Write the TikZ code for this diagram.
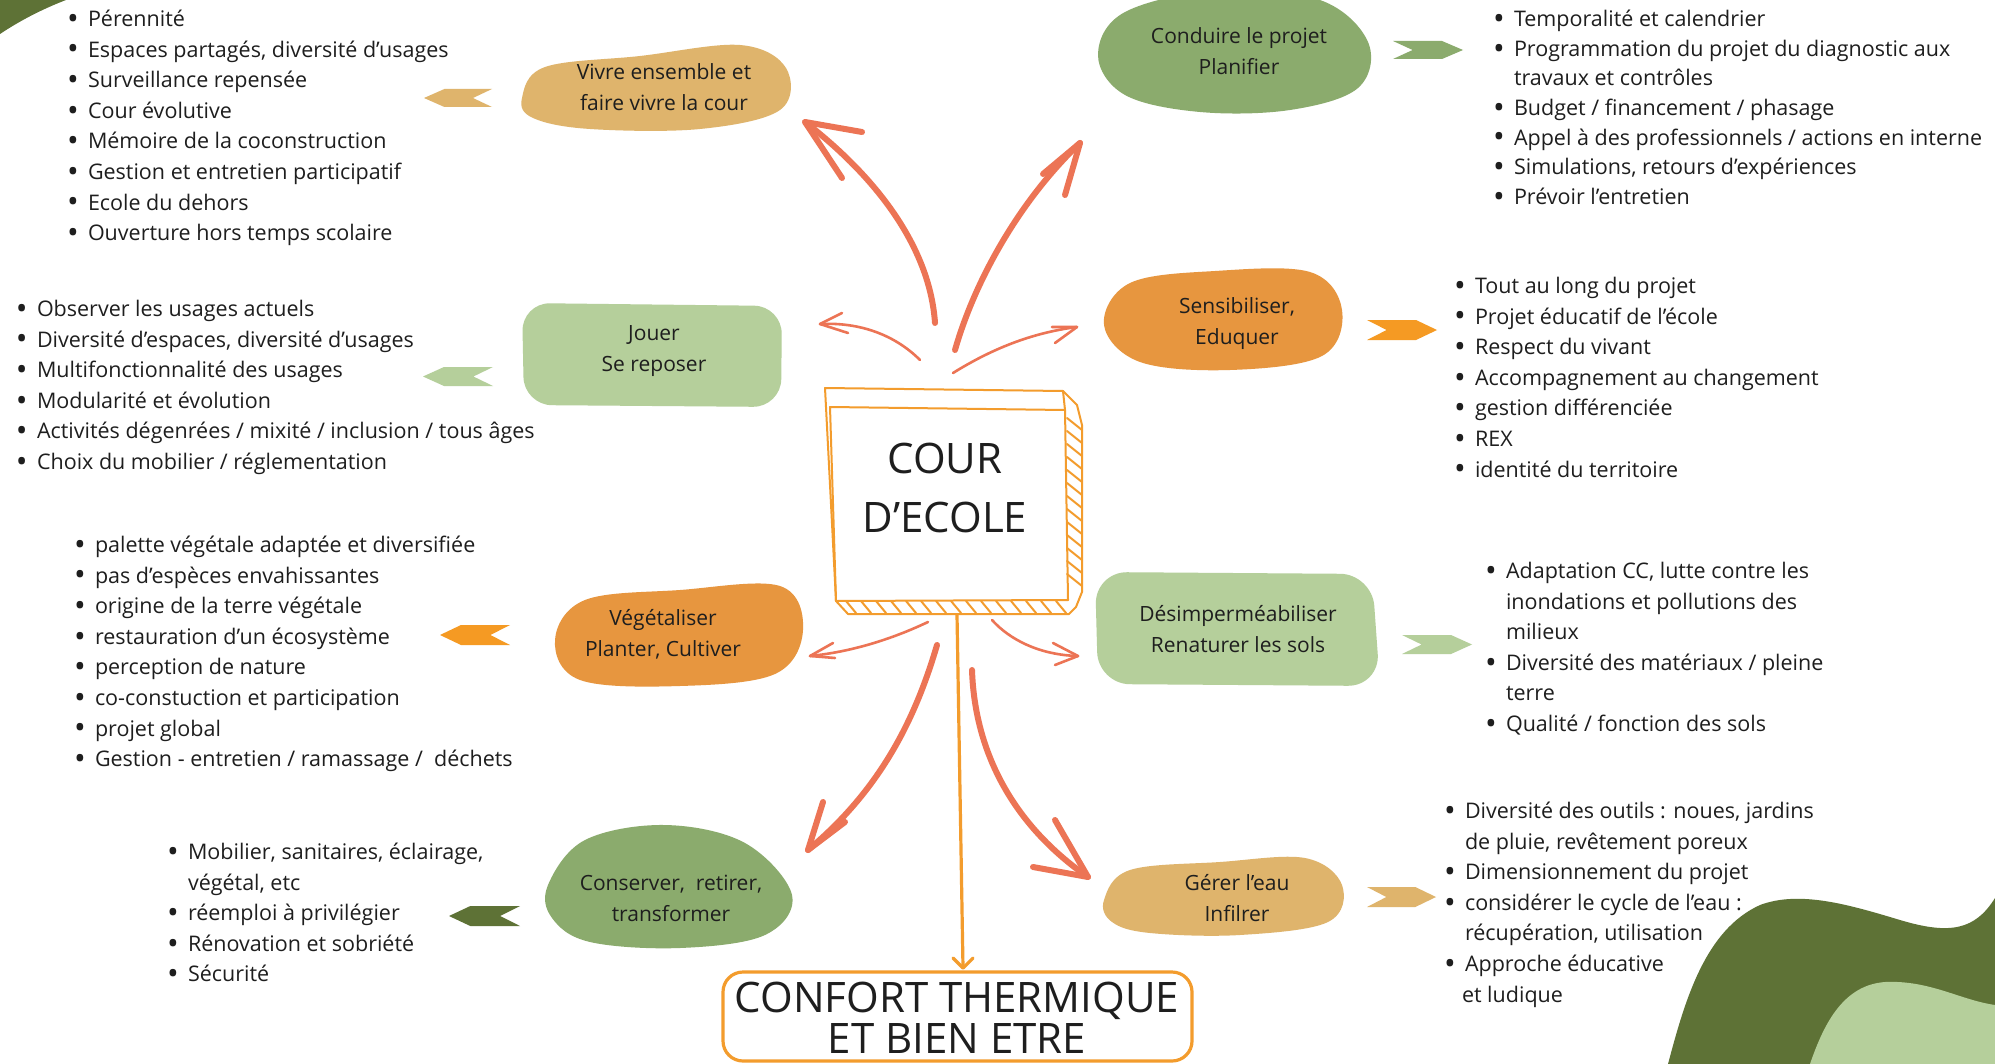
\documentclass[tikz,border=0pt]{standalone}
\usepackage{fontspec}
\setmainfont{Open Sans}
\definecolor{cTan}{HTML}{DFB46C}
\definecolor{cOrange}{HTML}{E7963F}
\definecolor{cOrangeB}{HTML}{F59A23}
\definecolor{cGreen}{HTML}{8BAB6D}
\definecolor{cLight}{HTML}{B5CF9B}
\definecolor{cDark}{HTML}{5E7236}
\definecolor{cSalmon}{HTML}{EC7455}
\definecolor{cBox}{HTML}{F39C2D}
\definecolor{cText}{HTML}{1E1E1E}
\newcommand\bi{\makebox[10.5pt][l]{\raisebox{-0.13em}{\scalebox{1.45}{\textbullet}}}}
\newcommand\ci{\hspace*{10.5pt}}
\newcommand\chevleft[5]{%
 \fill[#5] (#1,{(#3+#4)/2}) -- ({#1+0.3*(#2-#1)},#3) -- (#2,#3) -- ({#2-0.28*(#2-#1)},{(#3+#4)/2}) -- (#2,#4) -- ({#1+0.3*(#2-#1)},#4) -- cycle;}
\newcommand\chevright[5]{%
 \fill[#5] (#1,#3) -- ({#2-0.3*(#2-#1)},#3) -- (#2,{(#3+#4)/2}) -- ({#2-0.3*(#2-#1)},#4) -- (#1,#4) -- ({#1+0.28*(#2-#1)},{(#3+#4)/2}) -- cycle;}
\begin{document}
\begin{tikzpicture}[x=0.5pt,y=-0.5pt,
  listnode/.style={anchor=north west,inner sep=0pt,outer sep=0pt,text=cText,font=\fontsize{10.75pt}{15.3pt}\selectfont},
  blobtext/.style={align=center,inner sep=0pt,text=cText,font=\fontsize{10.5pt}{15.5pt}\selectfont},
  bigarrow/.style={draw=cSalmon,line width=3pt,line cap=round,line join=round},
  smallarrow/.style={draw=cSalmon,line width=1.3pt,line cap=round,line join=round},
  boxline/.style={draw=cBox,line width=1pt,line cap=round,line join=round}]

\useasboundingbox (0,0) rectangle (1995,1064);
\fill[white] (0,0) rectangle (1995,1064);

% ---------- blobs ----------
\fill[cTan] plot[smooth cycle,tension=0.6] coordinates {(522,98) (545,67) (640,56) (740,45) (786,68) (780,110) (700,129) (590,129) (533,118)};
\fill[cGreen] plot[smooth cycle,tension=0.6] coordinates {(1098,55) (1125,12) (1220,-10) (1320,0) (1368,42) (1358,88) (1290,110) (1200,112) (1125,95)};
\fill[cLight,rounded corners=14pt] (522,303) -- (782,306) -- (781,407) -- (524,405) -- cycle;
\fill[cOrange] plot[smooth cycle,tension=0.6] coordinates {(1104,325) (1130,283) (1215,271) (1310,272) (1342,310) (1322,356) (1230,370) (1140,362)};
\fill[cOrange] plot[smooth cycle,tension=0.6] coordinates {(555,640) (585,600) (680,590) (780,586) (803,630) (775,674) (680,686) (580,680)};
\fill[cLight,rounded corners=16pt] (1095,572) -- (1372,574) -- (1380,686) -- (1098,684) -- cycle;
\fill[cGreen] plot[smooth cycle,tension=0.6] coordinates {(548,885) (585,840) (665,825) (745,843) (792,895) (765,935) (680,948) (590,942) (552,918)};
\fill[cTan] plot[smooth cycle,tension=0.6] coordinates {(1104,900) (1130,870) (1220,862) (1305,858) (1342,885) (1328,922) (1240,935) (1150,933) (1112,922)};

% ---------- blob texts ----------
\node[blobtext] (vivre) at (664,87) {Vivre ensemble et\\faire vivre la cour};
\node[blobtext] (conduire) at (1239,51) {Conduire le projet\\Planifier};
\node[blobtext] (jouer) at (654,351) {Jouer\\Se reposer};
\node[blobtext] (sensib) at (1237,324) {Sensibiliser,\\Eduquer};
\node[blobtext] (veget) at (663,634) {Végétaliser\\Planter, Cultiver};
\node[blobtext] (desimp) at (1238,629) {Désimperméabiliser\\Renaturer les sols};
\node[blobtext] (conserver) at (671,898) {Conserver,~ retirer,\\transformer};
\node[blobtext] (gerer) at (1237,898) {Gérer l’eau\\Infilrer};

% ---------- chevrons ----------
\chevleft{424}{492}{89}{107}{cTan}
\chevright{1393}{1463}{41}{59}{cGreen}
\chevleft{423}{493}{367}{386}{cLight}
\chevright{1367}{1437}{320}{340}{cOrangeB}
\chevleft{440}{510}{625}{645}{cOrangeB}
\chevright{1402}{1472}{635}{654}{cLight}
\chevleft{449}{520}{906}{926}{cDark}
\chevright{1367}{1436}{887}{907}{cTan}

% ---------- lists ----------
\node[listnode] (lvivre) at (67,5) {\begin{tabular}{@{}l@{}}
\bi Pérennité\\
\bi Espaces partagés, diversité d’usages\\
\bi Surveillance repensée\\
\bi Cour évolutive\\
\bi Mémoire de la coconstruction\\
\bi Gestion et entretien participatif\\
\bi Ecole du dehors\\
\bi Ouverture hors temps scolaire
\end{tabular}};

\node[listnode,font=\fontsize{10.75pt}{14.8pt}\selectfont] (lconduire) at (1493,6) {\begin{tabular}{@{}l@{}}
\bi Temporalité et calendrier\\
\bi Programmation du projet du diagnostic aux\\
\ci travaux et contrôles\\
\bi Budget / financement / phasage\\
\bi Appel à des professionnels / actions en interne\\
\bi Simulations, retours d’expériences\\
\bi Prévoir l’entretien
\end{tabular}};

\node[listnode] (ljouer) at (16,295) {\begin{tabular}{@{}l@{}}
\bi Observer les usages actuels\\
\bi Diversité d’espaces, diversité d’usages\\
\bi Multifonctionnalité des usages\\
\bi Modularité et évolution\\
\bi Activités dégenrées / mixité / inclusion / tous âges\\
\bi Choix du mobilier / réglementation
\end{tabular}};

\node[listnode] (lsensib) at (1454,272) {\begin{tabular}{@{}l@{}}
\bi Tout au long du projet\\
\bi Projet éducatif de l’école\\
\bi Respect du vivant\\
\bi Accompagnement au changement\\
\bi gestion différenciée\\
\bi REX\\
\bi identité du territoire
\end{tabular}};

\node[listnode] (lveget) at (74,531) {\begin{tabular}{@{}l@{}}
\bi palette végétale adaptée et diversifiée\\
\bi pas d’espèces envahissantes\\
\bi origine de la terre végétale\\
\bi restauration d’un écosystème\\
\bi perception de nature\\
\bi co-constuction et participation\\
\bi projet global\\
\bi Gestion - entretien / ramassage /~ déchets
\end{tabular}};

\node[listnode] (ldesimp) at (1485,557) {\begin{tabular}{@{}l@{}}
\bi Adaptation CC, lutte contre les\\
\ci inondations et pollutions des\\
\ci milieux\\
\bi Diversité des matériaux / pleine\\
\ci terre\\
\bi Qualité / fonction des sols
\end{tabular}};

\node[listnode] (lconserver) at (167,838) {\begin{tabular}{@{}l@{}}
\bi Mobilier, sanitaires, éclairage,\\
\ci végétal, etc\\
\bi réemploi à privilégier\\
\bi Rénovation et sobriété\\
\bi Sécurité
\end{tabular}};

\node[listnode] (lgerer) at (1444,797) {\begin{tabular}{@{}l@{}}
\bi Diversité des outils : noues, jardins\\
\ci de pluie, revêtement poreux\\
\bi Dimensionnement du projet\\
\bi considérer le cycle de l’eau :\\
\ci récupération, utilisation\\
\bi Approche éducative\\
\hspace*{9pt}et ludique
\end{tabular}};

% ---------- central box ----------
\fill[white] (830,407) -- (1065,410) -- (1068,600) -- (836,601) -- cycle;
\draw[boxline] (825,388) -- (1063,391) -- (1077,405) -- (1082,425) -- (1082,592) -- (1076,607) -- (1069,614) -- (848,614) -- (836,601) -- cycle;
\draw[boxline] (830,407) -- (1065,410) -- (1068,600) -- (836,601) -- cycle;
\draw[boxline] (1063,391) -- (1065,410);
\foreach \yy in {418,431,...,583} \draw[boxline] (1067,\yy) -- (1082,{\yy+12});
\foreach \xx in {846,861,...,1060} \draw[boxline] (\xx,601) -- ({\xx+10},613);
\node[font=\fontsize{21pt}{29.5pt}\selectfont,align=center,inner sep=0pt,text=cText] (cour) at (945,487.5) {COUR\\D’ECOLE};

% ---------- bottom box ----------
\draw[cBox,line width=1.6pt,rounded corners=10pt] (723,972) rectangle (1192,1061);
\node[font=\fontsize{21pt}{20.5pt}\selectfont,align=center,inner sep=0pt,text=cText] (confort) at (957,1017.5) {CONFORT THERMIQUE\\ET BIEN ETRE};

% ---------- arrows ----------
\coordinate (a1s) at (935,323); \coordinate (a1t) at (805,122);
\coordinate (a1b) at (862,132); \coordinate (a1c) at (842,178);
\draw[bigarrow] (a1s) .. controls (930,250) and (880,180) .. (a1t);
\draw[bigarrow] (a1b) -- (a1t) -- (a1c);

\coordinate (a2s) at (955,350); \coordinate (a2t) at (1080,143);
\coordinate (a2b) at (1043,174); \coordinate (a2c) at (1065,195);
\draw[bigarrow] (a2s) .. controls (975,280) and (1020,200) .. (a2t);
\draw[bigarrow] (a2b) -- (a2t) -- (a2c);

\coordinate (a3s) at (920,360); \coordinate (a3t) at (820,324);
\coordinate (a3b) at (842,313); \coordinate (a3c) at (848,333);
\draw[smallarrow] (a3s) .. controls (895,335) and (860,322) .. (a3t);
\draw[smallarrow] (a3b) -- (a3t) -- (a3c);

\coordinate (a4s) at (953,373); \coordinate (a4t) at (1077,327);
\coordinate (a4b) at (1052,327); \coordinate (a4c) at (1055,343);
\draw[smallarrow] (a4s) .. controls (990,350) and (1030,333) .. (a4t);
\draw[smallarrow] (a4b) -- (a4t) -- (a4c);

\coordinate (a5s) at (928,622); \coordinate (a5t) at (810,656);
\coordinate (a5b) at (833,643); \coordinate (a5c) at (835,658);
\draw[smallarrow] (a5s) .. controls (890,640) and (850,652) .. (a5t);
\draw[smallarrow] (a5b) -- (a5t) -- (a5c);

\coordinate (a6s) at (992,620); \coordinate (a6t) at (1078,656);
\coordinate (a6b) at (1053,643); \coordinate (a6c) at (1055,665);
\draw[smallarrow] (a6s) .. controls (1010,640) and (1040,655) .. (a6t);
\draw[smallarrow] (a6b) -- (a6t) -- (a6c);

\coordinate (a7s) at (937,645); \coordinate (a7t) at (808,850);
\coordinate (a7b) at (823,802); \coordinate (a7c) at (845,822);
\draw[bigarrow] (a7s) .. controls (915,720) and (880,790) .. (a7t);
\draw[bigarrow] (a7b) -- (a7t) -- (a7c);

\coordinate (a8s) at (972,670); \coordinate (a8t) at (1088,877);
\coordinate (a8b) at (1055,820); \coordinate (a8c) at (1033,867);
\draw[bigarrow] (a8s) .. controls (975,760) and (1020,830) .. (a8t);
\draw[bigarrow] (a8b) -- (a8t) -- (a8c);

\coordinate (v0) at (957,615); \coordinate (v1) at (963,968);
\draw[cBox,line width=1.6pt,line cap=round,line join=round] (v0) -- (v1);
\draw[cBox,line width=1.6pt,line cap=round,line join=round] (953,958) -- (v1) -- (973,958);

% ---------- decorations ----------
\fill[cDark] (0,0) -- (66,0) .. controls (40,10) and (18,22) .. (0,34) -- cycle;
\fill[cDark] (1668,1064) .. controls (1685,1000) and (1705,930) .. (1760,905) .. controls (1800,890) and (1850,905) .. (1900,920) .. controls (1950,935) and (1975,930) .. (1995,898) -- (1995,1064) -- cycle;
\fill[cLight] (1810,1064) .. controls (1825,1020) and (1845,985) .. (1885,982) .. controls (1930,980) and (1960,1000) .. (1995,1005) -- (1995,1064) -- cycle;
\end{tikzpicture}
\end{document}
